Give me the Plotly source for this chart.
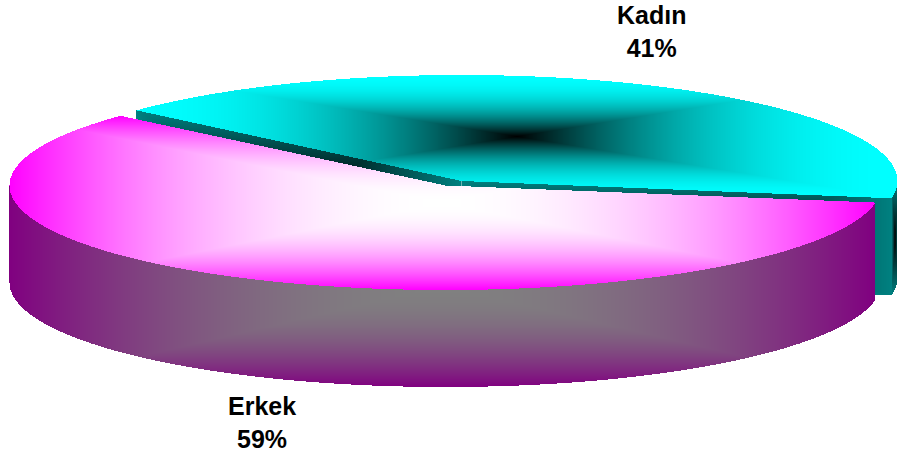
import numpy as np
import plotly.graph_objects as go

# Data
categories = ["Erkek", "Kadın"]
shares = [59, 41]
label_text = ["Erkek<br>59%", "Kadın<br>41%"]

W, H = 898, 462
A = 436.0
B_BY_SLICE = {"Kadın": 106.0, "Erkek": 104.5}
DEPTH = 97.0
START = 138.2                 # degrees, boundary between the two slices
CENTER = {"Kadın": (461.5, 181.0), "Erkek": (445.5, 185.5)}

span = 360.0 * shares[1] / sum(shares)
a0, a1 = np.radians(START - span), np.radians(START)   # Kadın arc

yy, xx = np.mgrid[0:H, 0:W]
X, Y = xx + 0.5, yy + 0.5


def in_sector(cx, cy, B, a_lo, a_hi, dz=0.0):
    u = (X - cx) / A
    v = (cy + dz - Y) / B
    ang = np.arctan2(v, u)
    d = np.mod(ang - a_lo, 2 * np.pi)
    return (u * u + v * v <= 1.0) & (d <= np.mod(a_hi - a_lo, 2 * np.pi))


def swept(cx, cy, B, a_lo, a_hi):
    """Everything the sector covers as it is extruded downward."""
    m = np.zeros((H, W), bool)
    for dz in np.arange(0, DEPTH + 0.5, 1.0):
        m |= in_sector(cx, cy, B, a_lo, a_hi, dz)
    return m


def box_s(x0, x1, y0, y1):
    return np.maximum(np.abs(X - (x0 + x1) / 2) / ((x1 - x0) / 2),
                      np.abs(Y - (y0 + y1) / 2) / ((y1 - y0) / 2)).clip(0, 1)


def mix(c0, c1, t):
    c0, c1 = np.array(c0, float), np.array(c1, float)
    return c0[None, None, :] * (1 - t[..., None]) + c1[None, None, :] * t[..., None]


def to_dark(s):       # black centre, saturated edge
    return 1 - (1 - s) ** 2


def to_light(s):      # light centre, saturated edge
    return s ** 2


img = np.full((H, W, 3), 255.0)

# Kadın solid
cx, cy = CENTER["Kadın"]
B = B_BY_SLICE["Kadın"]
px0, py0 = cx + A * np.cos(a1), cy - B * np.sin(a1)
px1, py1 = cx + A * np.cos(a0), cy - B * np.sin(a0)


def wall_mask(x0, y0, x1, y1):
    top = y0 + (X - x0) * (y1 - y0) / (x1 - x0)
    return (X >= min(x0, x1)) & (X <= max(x0, x1)) & (Y >= top) & (Y <= top + DEPTH)


TEAL, BLACK, CYAN = (0, 128, 128), (0, 0, 0), (0, 255, 255)
m = wall_mask(px0, py0, cx, cy)
img[m] = mix(BLACK, TEAL, box_s(px0, cx, py0, cy + DEPTH))[m]
m = wall_mask(cx, cy, px1, py1)
img[m] = mix(BLACK, TEAL, box_s(cx, px1, cy, py1 + DEPTH))[m]
m = wall_mask(cx, cy, px1, py1) & (np.abs(X - cx) <= 0.5)
img[m] = (110, 180, 180)
# outer wall of Kadın
m = swept(cx, cy, B, a0, a1) & (X >= px1)
img[m] = mix(BLACK, TEAL, box_s(px1, cx + A + 1, cy, py1 + DEPTH))[m]
m = in_sector(cx, cy, B, a0, a1)
ys, xs = np.where(m)
img[m] = mix(BLACK, CYAN, to_dark(box_s(xs.min(), xs.max() + 1, ys.min(), ys.max() + 1)))[m]

# Erkek solid
cx, cy = CENTER["Erkek"]
B = B_BY_SLICE["Erkek"]
b0, b1 = a1, a0 + 2 * np.pi
m = swept(cx, cy, B, b0, b1)
top = in_sector(cx, cy, B, b0, b1)
ys, xs = np.where(m)
side = mix((128, 128, 128), (128, 0, 128),
           to_light(box_s(xs.min(), xs.max() + 1, cy, cy + B + DEPTH)))
rim = m & ~top & (Y >= cy - 5) & (X <= cx + A * np.cos(a0) + 1)
img[rim] = side[rim]
ys, xs = np.where(top)
img[top] = mix((255, 255, 255), (255, 0, 255),
               to_light(box_s(xs.min(), xs.max() + 1, ys.min(), ys.max() + 1)))[top]

fig = go.Figure(go.Image(z=img.round().astype(np.uint8), x0=0, dx=1, y0=0, dy=1, hoverinfo="skip"))

label_pos = {"Erkek": (262, 422), "Kadın": (651, 31)}
for name, text in zip(categories, label_text):
    lx, ly = label_pos[name]
    fig.add_annotation(x=lx, y=ly, xref="x", yref="y", text=f"<b>{text}</b>", showarrow=False,
                       font=dict(family="Liberation Sans", size=25, color="black"))

fig.update_xaxes(visible=False, range=[0, W], constrain="domain")
fig.update_yaxes(visible=False, range=[H, 0])
fig.update_layout(width=W, height=H, margin=dict(l=0, r=0, t=0, b=0),
                  paper_bgcolor="white", plot_bgcolor="white", showlegend=False)
fig.write_html("out.html", config={"displayModeBar": False},
               post_script="document.body.style.margin='0';document.body.style.overflow='hidden';")
